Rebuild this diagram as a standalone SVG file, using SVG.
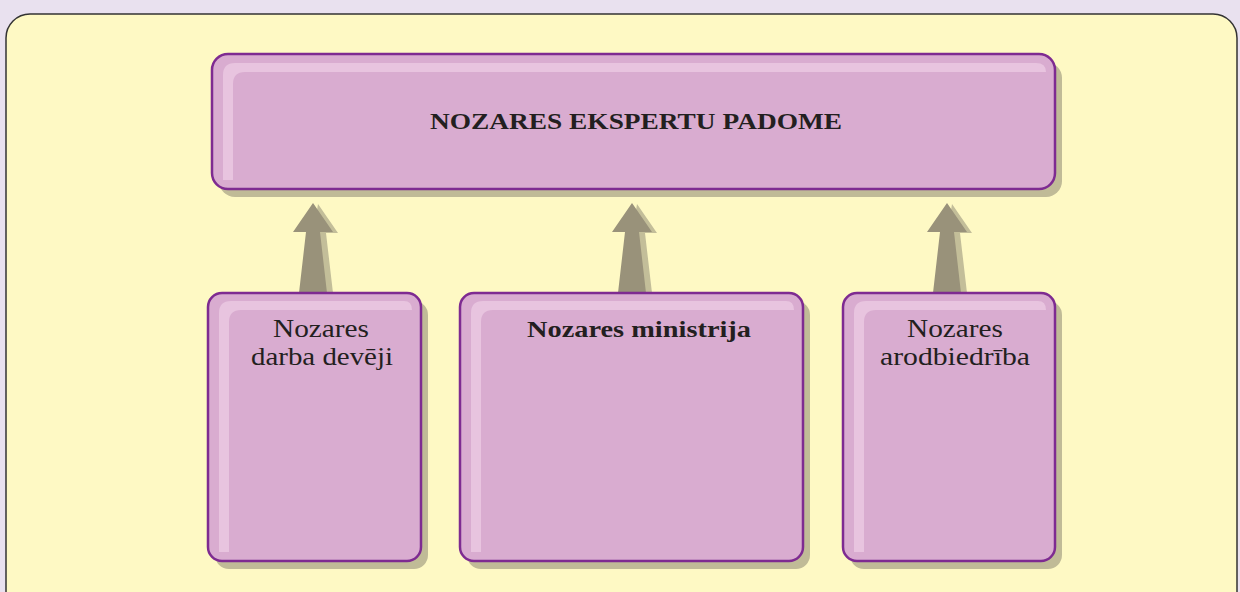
<svg xmlns="http://www.w3.org/2000/svg" width="1240" height="592" viewBox="0 0 1240 592">
<style>
.shadow{fill:#c0bb97}
.box{fill:#d9acd0;stroke:#7e2b91;stroke-width:2.5}
.hl{fill:#e8c4df}
.arrow{fill:#99927a}
.arrowsh{fill:#c3be99}
.t{font-family:"Liberation Serif","Times New Roman",serif;fill:#231f20;text-anchor:middle}
.b{font-weight:bold}
</style>
<rect x="0" y="0" width="1240" height="592" fill="#e9e1ef"/>
<rect x="6" y="14" width="1231" height="610" rx="24" fill="#fef9c4" stroke="#333" stroke-width="1.5"/>

<g id="connectors">
  <g id="arrow1">
    <polygon class="arrowsh" points="318,204 338,233 326,233 333,293 304,293"/>
    <polygon class="arrow" points="313,203 293,232 306,232 299,293 327,293 320,232 333,232"/>
  </g>
  <g id="arrow2">
    <polygon class="arrowsh" points="637,204 657,233 645,233 652,293 623,293"/>
    <polygon class="arrow" points="632,203 612,232 625,232 618,293 646,293 639,232 652,232"/>
  </g>
  <g id="arrow3">
    <polygon class="arrowsh" points="952,204 972,233 960,233 967,293 938,293"/>
    <polygon class="arrow" points="947,203 927,232 940,232 933,293 961,293 954,232 967,232"/>
  </g>
</g>

<g id="node-padome">
  <rect class="shadow" x="219" y="62" width="843" height="135" rx="16"/>
  <rect class="box" x="212" y="54" width="843" height="135" rx="16"/>
  <path class="hl" d="M223,180 L223,75 Q223,63 235,63 L1036,63 Q1046,63 1046,72 L245,72 Q233,72 233,84 L233,180 Z"/>
  <text class="t b" x="636" y="129" font-size="24" textLength="412" lengthAdjust="spacingAndGlyphs">NOZARES EKSPERTU PADOME</text>
</g>

<g id="node-devejI">
  <rect class="shadow" x="215" y="301" width="213" height="268" rx="14"/>
  <rect class="box" x="208" y="293" width="213" height="268" rx="14"/>
  <path class="hl" d="M219,552 L219,313 Q219,301 231,301 L404,301 Q412,301 412,310 L241,310 Q229,310 229,322 L229,552 Z"/>
  <text class="t" x="321" y="337" font-size="25" textLength="96" lengthAdjust="spacingAndGlyphs">Nozares</text>
  <text class="t" x="322" y="365" font-size="25" textLength="142" lengthAdjust="spacingAndGlyphs">darba devēji</text>
</g>

<g id="node-ministrija">
  <rect class="shadow" x="467" y="301" width="343" height="268" rx="14"/>
  <rect class="box" x="460" y="293" width="343" height="268" rx="14"/>
  <path class="hl" d="M471,552 L471,313 Q471,301 483,301 L786,301 Q794,301 794,310 L493,310 Q481,310 481,322 L481,552 Z"/>
  <text class="t b" x="639" y="337" font-size="24" textLength="224" lengthAdjust="spacingAndGlyphs">Nozares ministrija</text>
</g>

<g id="node-arodbiedriba">
  <rect class="shadow" x="850" y="301" width="212" height="268" rx="14"/>
  <rect class="box" x="843" y="293" width="212" height="268" rx="14"/>
  <path class="hl" d="M854,552 L854,313 Q854,301 866,301 L1038,301 Q1046,301 1046,310 L876,310 Q864,310 864,322 L864,552 Z"/>
  <text class="t" x="955" y="337" font-size="25" textLength="96" lengthAdjust="spacingAndGlyphs">Nozares</text>
  <text class="t" x="955" y="365" font-size="25" textLength="150" lengthAdjust="spacingAndGlyphs">arodbiedrība</text>
</g>
</svg>
